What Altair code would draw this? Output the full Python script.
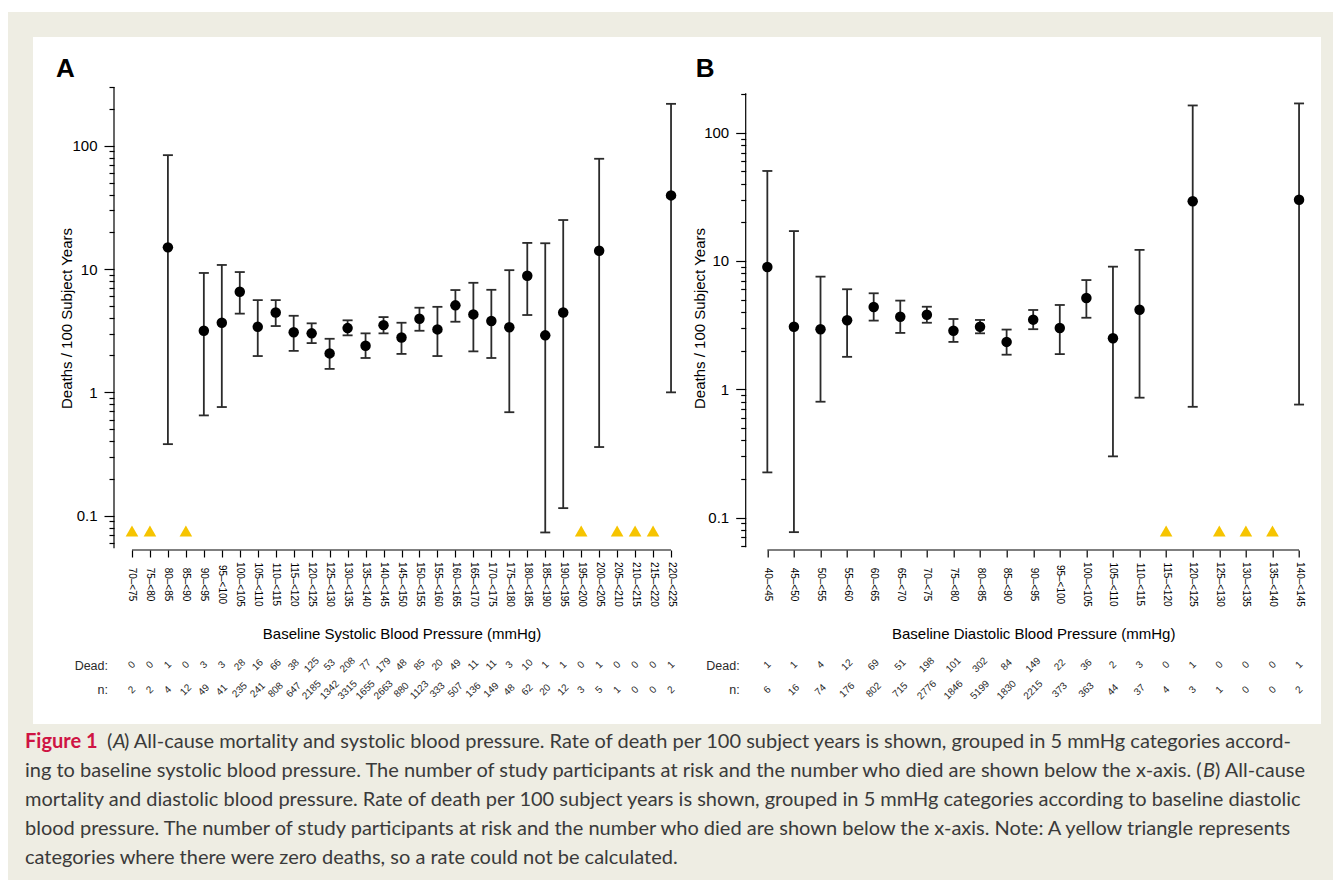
import altair as alt
import pandas as pd

# ---------------- data ----------------
SYS_CATS = ["70–<75", "75–<80", "80–<85", "85–<90", "90–<95", "95–<100", "100–<105",
            "105–<110", "110–<115", "115–<120", "120–<125", "125–<130", "130–<135",
            "135–<140", "140–<145", "145–<150", "150–<155", "155–<160", "160–<165",
            "165–<170", "170–<175", "175–<180", "180–<185", "185–<190", "190–<195",
            "195–<200", "200–<205", "205–<210", "210–<215", "215–<220", "220–<225"]
SYS_RATE = [None, None, 15.0, None, 3.16, 3.67, 6.55, 3.40, 4.45, 3.07, 3.01, 2.07, 3.32,
            2.39, 3.51, 2.79, 3.95, 3.24, 5.08, 4.29, 3.79, 3.37, 8.83, 2.90, 4.45, None,
            14.1, None, None, None, 39.6]
SYS_LO = [None, None, 0.38, None, 0.65, 0.76, 4.35, 1.97, 3.45, 2.17, 2.51, 1.55, 2.90,
          1.90, 3.01, 2.05, 3.16, 1.97, 3.74, 2.15, 1.90, 0.69, 4.24, 0.073, 0.115, None,
          0.36, None, None, None, 1.0]
SYS_HI = [None, None, 84.0, None, 9.3, 10.8, 9.46, 5.6, 5.6, 4.18, 3.63, 2.72, 3.84,
          3.01, 4.08, 3.67, 4.86, 4.94, 6.76, 7.74, 6.79, 9.8, 16.3, 16.2, 25.0, None,
          78.5, None, None, None, 219.0]
SYS_DEAD = [0, 0, 1, 0, 3, 3, 28, 16, 66, 38, 125, 53, 208, 77, 179, 48, 85, 20, 49, 11,
            11, 3, 10, 1, 1, 0, 1, 0, 0, 0, 1]
SYS_N = [2, 2, 4, 12, 49, 41, 235, 241, 808, 647, 2185, 1342, 3315, 1655, 2663, 880, 1123,
         333, 507, 136, 149, 48, 62, 20, 12, 3, 5, 1, 0, 0, 2]

DIA_CATS = ["40–<45", "45–<50", "50–<55", "55–<60", "60–<65", "65–<70", "70–<75",
            "75–<80", "80–<85", "85–<90", "90–<95", "95–<100", "100–<105", "105–<110",
            "110–<115", "115–<120", "120–<125", "125–<130", "130–<135", "135–<140",
            "140–<145"]
DIA_RATE = [8.98, 3.07, 2.94, 3.45, 4.38, 3.68, 3.81, 2.86, 3.07, 2.34, 3.49, 3.00, 5.15,
            2.50, 4.17, None, 29.2, None, None, None, 30.0]
DIA_LO = [0.225, 0.077, 0.80, 1.79, 3.43, 2.75, 3.30, 2.34, 2.73, 1.86, 2.94, 1.88, 3.61,
          0.30, 0.86, None, 0.73, None, None, None, 0.76]
DIA_HI = [50.3, 17.1, 7.55, 6.02, 5.6, 4.91, 4.40, 3.53, 3.47, 2.92, 4.15, 4.54, 7.1,
          9.03, 12.2, None, 163.0, None, None, None, 169.0]
DIA_DEAD = [1, 1, 4, 12, 69, 51, 198, 101, 302, 84, 149, 22, 36, 2, 3, 0, 1, 0, 0, 0, 1]
DIA_N = [6, 16, 74, 176, 802, 715, 2776, 1846, 5199, 1830, 2215, 373, 363, 44, 37, 4, 3,
         1, 0, 0, 2]

# log-axis tick values (decades get labels)
SYS_TICKS = [0.06, 0.07, 0.08, 0.09, 0.1, 0.2, 0.3, 0.4, 0.5, 0.6, 0.7, 0.8, 0.9, 1, 2, 3,
             4, 5, 6, 7, 8, 9, 10, 20, 30, 40, 50, 60, 70, 80, 90, 100, 200, 300]
DIA_TICKS = [0.06, 0.07, 0.08, 0.09, 0.1, 0.2, 0.3, 0.4, 0.5, 0.6, 0.7, 0.8, 0.9, 1, 2, 3,
             4, 5, 6, 7, 8, 9, 10, 20, 30, 40, 50, 60, 70, 80, 90, 100, 200]

# scale extents / level of the "zero deaths" markers
SYS_YDOM = [0.0536, 300]
DIA_YDOM = [0.0569, 227]
SYS_AXIS_EXT = [0.0544, 300]
DIA_AXIS_EXT = [0.0588, 203]
SYS_TRI = 0.075
DIA_TRI = 0.0787

CAPTION_L1 = ") All-cause mortality and systolic blood pressure. Rate of death per 100 subject years is shown, grouped in 5 mmHg categories accord-"
CAPTION_L2 = "ing to baseline systolic blood pressure. The number of study participants at risk and the number who died are shown below the x-axis. ("
CAPTION_L2B = ") All-cause"
CAPTION_L3 = "mortality and diastolic blood pressure. Rate of death per 100 subject years is shown, grouped in 5 mmHg categories according to baseline diastolic"
CAPTION_L4 = "blood pressure. The number of study participants at risk and the number who died are shown below the x-axis. Note: A yellow triangle represents"
CAPTION_L5 = "categories where there were zero deaths, so a rate could not be calculated."

# ---------------- styling ----------------
FONT = "Liberation Sans"
CAP_FONT = "Lato"
CAP_SIZE = 20
INK = "#2b2b2b"
YELLOW = "#f6c400"
BEIGE = "#eeede3"
CRIMSON = "#cf1443"
CAP_INK = "#3a3a3a"
W, H = 575, 462
DECADE = "(datum.value==0.1||datum.value==1||datum.value==10||datum.value==100)"

ONE = pd.DataFrame({"k": [0]})


def label(text, x, y, **kw):
    return alt.Chart(ONE).mark_text(text=text, **kw).encode(x=alt.value(x), y=alt.value(y))


def panel(cats, rate, lo, hi, dead, n, ydom, yext, tri_y, ticks, pad, xtitle,
          letter, letter_x, ytitle_x, extra=()):
    df = pd.DataFrame(dict(cat=cats, rate=rate, lo=lo, hi=hi, dead=dead, n=n))
    est = df[df["rate"].notna()]
    zero = df[df["dead"] == 0]
    ends = pd.DataFrame({"a": [cats[0]], "b": [cats[-1]]})

    xs = alt.Scale(type="point", domain=cats, padding=pad)
    ys = alt.Scale(type="log", domain=ydom, nice=False)
    xaxis = alt.Axis(title=xtitle, labelAngle=90, labelAlign="center",
                     labelBaseline="middle", labelPadding=27, labelFontSize=10,
                     labelColor="black", tickSize=7, tickColor="black", tickWidth=1.2,
                     domain=False, grid=False, offset=1, titleFontSize=15,
                     titleFontWeight="normal", titleColor="black", titleY=83,
                     titleBaseline="middle", zindex=1)
    yaxis = alt.Axis(title="Deaths / 100 Subject Years", values=ticks,
                     tickSize={"condition": {"test": DECADE, "value": 10}, "value": 5},
                     labelExpr=f"{DECADE} ? format(datum.value, '~g') : ''",
                     labelFontSize=15, labelPadding=7, labelColor="black",
                     tickColor="black", tickWidth=1.2, domain=False, grid=False,
                     titleFontSize=15, titleFontWeight="normal", titleColor="black",
                     titleX=ytitle_x, titleY=H / 2, titleAngle=270,
                     titleBaseline="middle", zindex=1)
    X = alt.X("cat:N", scale=xs, axis=xaxis)

    def Y(f):
        return alt.Y(f"{f}:Q", scale=ys, axis=yaxis)

    base = alt.Chart(est)
    bars = base.mark_rule(color=INK, strokeWidth=1.8).encode(x=X, y=Y("lo"), y2="hi:Q")
    cap_lo = base.mark_tick(color=INK, thickness=1.8, size=10, opacity=1).encode(x=X, y=Y("lo"))
    cap_hi = base.mark_tick(color=INK, thickness=1.8, size=10, opacity=1).encode(x=X, y=Y("hi"))
    dots = base.mark_circle(color="black", opacity=1, size=110).encode(x=X, y=Y("rate"))
    tri = alt.Chart(zero).mark_point(shape="triangle-up", filled=True, color=YELLOW,
                                     opacity=1, size=160).encode(x=X, y=alt.datum(tri_y))
    xline = alt.Chart(ends).mark_rule(color="black", strokeWidth=1.2).encode(
        x=alt.X("a:N", scale=xs, axis=xaxis), x2="b:N", y=alt.value(H + 1))
    yline = alt.Chart(ONE).mark_rule(color="black", strokeWidth=1.2).encode(
        x=alt.value(0), y=alt.datum(yext[0]), y2=alt.datum(yext[1]))
    dead_t = alt.Chart(df).mark_text(angle=315, fontSize=10, color=INK, font=FONT).encode(
        x=X, y=alt.value(578), text="dead:N")
    n_t = alt.Chart(df).mark_text(angle=315, fontSize=10, color=INK, font=FONT).encode(
        x=X, y=alt.value(603), text="n:N")
    lab_dead = label("Dead:", -6, 583, align="right", baseline="alphabetic",
                     fontSize=12.5, font=FONT, color=INK)
    lab_n = label("n:", -6, 607, align="right", baseline="alphabetic",
                  fontSize=12.5, font=FONT, color=INK)
    let = label(letter, letter_x, -10, align="left", baseline="alphabetic", fontSize=26,
                fontWeight="bold", font=FONT, color="black")
    layers = list(extra[:2]) + [bars, cap_lo, cap_hi, dots, tri, xline, yline, dead_t, n_t,
                                lab_dead, lab_n, let] + list(extra[2:])
    return alt.layer(*layers).properties(width=W, height=H)


# frame + caption (drawn inside panel A's layer, behind everything else)
frame = [
    alt.Chart(ONE).mark_rect(color=BEIGE).encode(
        x=alt.value(-106), x2=alt.value(1219), y=alt.value(-75), y2=alt.value(793)),
    alt.Chart(ONE).mark_rect(color="white").encode(
        x=alt.value(-81), x2=alt.value(1207), y=alt.value(-50), y2=alt.value(637)),
]
cap_kw = dict(font=CAP_FONT, fontSize=CAP_SIZE, color=CAP_INK, align="left")
caption = [
    label("Figure 1", -89, 655, font=CAP_FONT, fontSize=20, fontWeight="bold",
          color=CRIMSON, align="left"),
    label("(", -7, 655, **cap_kw),
    label("A", -1, 655, fontStyle="italic", **cap_kw),
    label(CAPTION_L1, 10, 655, **cap_kw),
    label(CAPTION_L2, -89, 684, **cap_kw),
    label("B", 1089, 684, fontStyle="italic", **cap_kw),
    label(CAPTION_L2B, 1101, 684, **cap_kw),
    label(CAPTION_L3, -89, 713, **cap_kw),
    label(CAPTION_L4, -89, 742, **cap_kw),
    label(CAPTION_L5, -89, 771, **cap_kw),
]

A = panel(SYS_CATS, SYS_RATE, SYS_LO, SYS_HI, SYS_DEAD, SYS_N, SYS_YDOM, SYS_AXIS_EXT,
          SYS_TRI, SYS_TICKS, 1.243, "Baseline Systolic Blood Pressure (mmHg)",
          "A", -58, -48, extra=frame + caption)
B = panel(DIA_CATS, DIA_RATE, DIA_LO, DIA_HI, DIA_DEAD, DIA_N, DIA_YDOM, DIA_AXIS_EXT,
          DIA_TRI, DIA_TICKS, 0.814, "Baseline Diastolic Blood Pressure (mmHg)",
          "B", -50, -46)

chart = alt.hconcat(A, B, spacing=56.7, bounds="flush").properties(
    background="white",
    padding={"left": 0, "top": 4, "right": 0, "bottom": 0},
).configure(font=FONT).configure_view(strokeWidth=0)

chart.save("out.html", embed_options={"renderer": "svg", "actions": False})
